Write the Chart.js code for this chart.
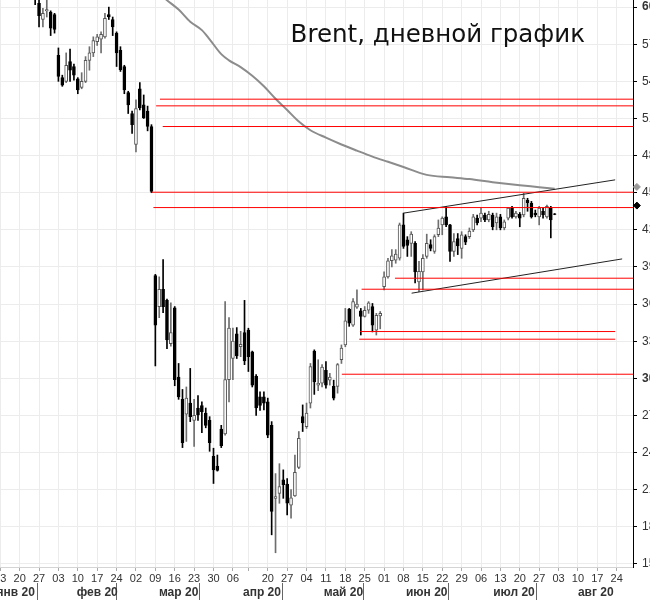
<!DOCTYPE html>
<html>
<head>
<meta charset="utf-8">
<title>Brent, дневной график</title>
<script src="https://cdn.jsdelivr.net/npm/chart.js@4.4.0/dist/chart.umd.min.js"></script>
<style>
  html, body { margin: 0; padding: 0; width: 650px; height: 600px; overflow: hidden; background: #fff; }
  /* the original picture is a crop of a wider chart: shift the canvas so the edges fall outside */
  #brent { position: absolute; left: -23px; top: -30px; }
</style>
</head>
<body>
<canvas id="brent" width="696" height="630"></canvas>
<script>
// Brent front month, daily candles 13.01.2020 - 31.07.2020
const chartTitle = 'Brent, дневной график';
const firstCalendarDay = '2020-01-02';
const lastCalendarDay = '2020-08-31';
const closedDays = ['2020-04-10'];
const firstCandleDay = '2020-01-13';
const unlabeledMondays = ['2020-04-13'];
const monthNames = ['янв 20', 'фев 20', 'мар 20', 'апр 20', 'май 20', 'июн 20', 'июл 20', 'авг 20'];
const yTicks = [15, 18, 21, 24, 27, 30, 33, 36, 39, 42, 45, 48, 51, 54, 57, 60];

// one row per week
const opens = [
  64.9, 64.2, 64.4, 64.0, 64.6,
  65.0, 65.2, 64.6, 63.3, 62.0,
  60.3, 59.0, 59.7, 59.6, 59.4,
  56.1, 54.3, 54.0, 55.6, 55.2,
  54.2, 53.5, 54.0, 55.7, 56.3,
  57.2, 57.4, 57.6, 59.4, 59.0,
  57.9, 56.5, 55.2, 53.1, 51.4,
  48.9, 53.4, 52.1, 51.6, 50.35,
  38.3, 35.8, 37.2, 36.3, 32.8,
  35.7, 30.1, 28.3, 27.1, 28.0,
  26.6, 27.6, 27.8, 27.2, 26.6,
  23.7, 22.9, 25.9, 25.5, 29.9,
  31.6, 33.6, 32.55, 33.7,
  33.9, 32.15, 30.15, 28.5, 28.5,
  28.1, 26.2, 20.3, 20.7, 21.8,
  21.45, 19.75, 20.5, 22.8, 26.9,
  26.1, 28.0, 32.2, 29.45, 29.6,
  30.65, 29.85, 29.35, 29.35, 31.5,
  32.7, 35.6, 34.3, 35.75, 35.45,
  35.0, 35.5, 35.8, 33.9, 35.05,
  37.4, 38.2, 39.5, 39.55, 39.7,
  42.4, 41.2, 40.9, 40.9, 37.8,
  38.6, 39.85, 40.8, 40.25, 41.6,
  42.4, 43.05, 42.4, 40.25, 41.3,
  40.5, 41.45, 41.45, 42.0, 42.95,
  42.95, 43.2, 42.8, 43.2, 42.55,
  43.05, 42.15, 42.95, 43.75, 43.05,
  43.25, 43.2, 44.4, 44.15, 43.35,
  43.05, 43.5, 43.05, 43.75, 43.3
];
const highs = [
  65.0, 64.8, 64.6, 64.8, 65.3,
  66.0, 65.5, 64.8, 63.5, 62.5,
  60.7, 59.9, 60.7, 59.7, 59.5,
  56.7, 54.5, 56.3, 56.6, 55.4,
  54.3, 54.7, 56.0, 56.8, 57.6,
  57.8, 58.0, 59.5, 60.0, 59.2,
  58.0, 56.8, 55.3, 53.2, 51.6,
  52.5, 53.9, 52.9, 52.0, 50.5,
  38.4, 38.2, 39.6, 36.4, 36.1,
  35.8, 31.2, 29.1, 29.3, 30.8,
  28.3, 28.6, 28.1, 27.6, 26.9,
  24.35, 23.8, 26.2, 36.2, 34.9,
  34.05, 34.1, 33.8, 36.3,
  34.05, 32.2, 30.3, 28.9, 28.9,
  28.4, 26.5, 22.3, 23.1, 22.6,
  21.9, 21.0, 23.8, 25.7, 27.85,
  28.0, 31.2, 32.3, 31.5, 31.1,
  31.35, 30.4, 29.85, 31.2, 32.7,
  35.65, 35.65, 36.45, 37.15, 35.65,
  35.8, 36.2, 36.05, 35.25, 35.4,
  38.6, 39.7, 40.4, 40.4, 42.55,
  43.35, 41.45, 41.85, 41.05, 39.45,
  40.0, 41.65, 41.2, 41.6, 42.8,
  43.05, 43.9, 42.45, 41.7, 41.7,
  41.85, 41.6, 42.15, 43.25, 43.2,
  43.75, 43.35, 43.5, 43.35, 43.35,
  43.25, 42.8, 43.8, 43.9, 43.5,
  43.4, 44.95, 44.55, 44.3, 43.6,
  43.9, 43.75, 44.0, 43.9, 43.32
];
const lows = [
  64.0, 63.9, 63.8, 63.8, 64.5,
  64.9, 64.2, 63.0, 61.6, 60.2,
  58.4, 58.4, 59.2, 57.7, 57.9,
  54.0, 53.6, 53.9, 54.0, 54.1,
  53.0, 53.4, 53.9, 54.9, 56.0,
  56.9, 56.3, 57.5, 59.0, 57.7,
  55.2, 54.8, 53.0, 51.4, 49.8,
  48.3, 51.7, 51.0, 50.0, 45.0,
  31.0, 34.9, 35.3, 32.4, 32.6,
  29.4, 28.3, 24.4, 24.9, 26.5,
  24.5, 26.6, 25.6, 26.0, 24.1,
  21.5, 22.5, 24.4, 25.4, 28.1,
  29.9, 31.6, 31.75, 31.1,
  30.55, 29.3, 27.0, 27.4, 27.45,
  25.2, 17.35, 15.9, 19.9, 20.3,
  18.95, 18.7, 20.45, 22.7, 25.7,
  25.95, 27.6, 28.7, 29.0, 29.3,
  29.2, 29.45, 28.25, 28.8, 31.2,
  32.55, 34.2, 34.2, 35.65, 33.5,
  34.95, 35.25, 33.75, 33.5, 34.0,
  37.15, 38.1, 39.0, 39.3, 39.55,
  40.5, 39.85, 39.85, 37.7, 37.0,
  37.15, 39.7, 40.3, 40.1, 41.45,
  41.6, 42.25, 39.45, 39.85, 40.0,
  39.7, 40.8, 41.3, 41.85, 42.4,
  42.65, 42.65, 42.65, 42.0, 42.0,
  42.0, 42.0, 42.8, 42.95, 42.95,
  42.25, 43.05, 43.5, 42.95, 43.05,
  42.4, 42.95, 42.95, 41.35, 43.22
];
const closes = [
  64.2, 64.5, 64.0, 64.6, 64.9,
  65.2, 64.6, 63.2, 62.0, 60.7,
  59.3, 59.5, 59.8, 58.3, 58.2,
  54.4, 53.7, 55.3, 54.9, 54.5,
  53.3, 54.0, 55.7, 56.3, 57.3,
  57.6, 57.8, 59.1, 59.2, 58.4,
  56.3, 54.95, 53.3, 52.1, 50.5,
  51.8, 51.85, 51.05, 50.35, 45.1,
  34.3, 37.2, 35.8, 33.1, 33.7,
  29.9, 28.5, 24.8, 28.4, 26.9,
  27.0, 27.05, 27.3, 26.2, 24.8,
  22.6, 22.55, 24.55, 29.9, 34.05,
  33.0, 31.8, 32.75, 31.4,
  31.75, 29.45, 27.6, 27.8, 28.0,
  25.4, 19.25, 20.45, 21.25, 21.4,
  19.9, 20.35, 22.4, 25.15, 26.4,
  27.2, 30.95, 29.7, 29.6, 30.9,
  29.45, 30.1, 28.4, 31.1, 32.45,
  34.65, 34.45, 36.2, 36.0, 35.0,
  35.5, 36.1, 34.3, 35.1, 35.25,
  38.2, 39.5, 39.9, 40.05, 42.4,
  40.65, 40.75, 41.65, 38.6, 38.65,
  39.7, 40.9, 40.5, 41.45, 42.15,
  42.95, 42.4, 40.25, 41.05, 40.7,
  41.6, 41.0, 41.9, 43.05, 42.55,
  43.35, 42.8, 43.25, 42.25, 43.05,
  42.15, 42.65, 43.75, 43.05, 43.35,
  42.95, 44.55, 44.2, 43.05, 43.2,
  43.75, 43.2, 43.9, 42.8, 43.25
];

// 200-day moving average (day number from 13.01)
const maDays = [40, 43, 46, 49, 52, 54, 57, 59, 62, 65, 68, 71, 74, 77, 80, 84, 88, 92, 96, 100, 104, 110, 116, 121, 127, 134, 139, 143];
const maValues = [61.35, 60.56, 59.8, 58.82, 58.14, 57.4, 56.2, 55.7, 55.15, 54.45, 53.6, 52.6, 51.68, 50.75, 50.05,
  49.45, 48.9, 48.4, 47.92, 47.5, 47.08, 46.44, 46.25, 46.1, 45.85, 45.6, 45.45, 45.32];

// horizontal levels: price, first day, last day (null = up to the price axis)
const levelPrices = [52.56, 52.02, 50.35, 45.04, 43.8, 38.09, 37.2, 33.78, 33.16, 30.33];
const levelFrom = [41.2, 40.2, 41.9, 39.0, 39.5, 101.8, 93.2, 92.8, 92.6, 88.1];
const levelTo = [null, null, null, null, null, null, null, 158.6, 158.6, null];

// rising channel
const channelTopDays = [104, 158.6];
const channelTopPrices = [43.35, 46.04];
const channelBottomDays = [106.1, 160.4];
const channelBottomPrices = [36.88, 39.65];

// price markers on the axis
const lastPriceMarker = 43.96;
const lastMaMarker = 45.47;

const X_MIN = -6;
const X_MAX = 163.2;

// trading calendar
function tradingDays() {
  const out = [];
  const d = new Date(firstCalendarDay + 'T00:00:00Z');
  const end = new Date(lastCalendarDay + 'T00:00:00Z');
  while (d <= end) {
    const iso = d.toISOString().slice(0, 10);
    const wd = d.getUTCDay();
    if (wd !== 0 && wd !== 6 && !closedDays.includes(iso)) out.push(iso);
    d.setUTCDate(d.getUTCDate() + 1);
  }
  return out;
}
const days = tradingDays();
const dayOffset = days.indexOf(firstCandleDay);
const dayIndex = iso => days.indexOf(iso) - dayOffset;
const inView = v => v >= X_MIN && v <= X_MAX;

// weekly ticks on Mondays
const weekTicks = days
  .filter(d => new Date(d + 'T00:00:00Z').getUTCDay() === 1)
  .map(d => ({ value: dayIndex(d), label: unlabeledMondays.includes(d) ? '' : d.slice(8, 10) }))
  .filter(t => inView(t.value));
const weekLabel = new Map(weekTicks.map(t => [t.value, t.label]));

// month separators and month names centred between them
const monthStarts = [];
days.forEach((d, i) => {
  if (i === 0 || d.slice(5, 7) !== days[i - 1].slice(5, 7)) monthStarts.push(dayIndex(d));
});
const monthLabel = new Map();
monthStarts.forEach((s, i) => {
  const next = i + 1 < monthStarts.length ? Math.min(monthStarts[i + 1], X_MAX) : X_MAX;
  monthLabel.set((s + next) / 2, monthNames[i]);
});
const monthSeparators = new Set(monthStarts.filter(inView));
const monthTicks = [...monthSeparators, ...monthLabel.keys()].sort((a, b) => a - b);

const isUp = i => closes[i] >= opens[i];

const datasets = [
  {
    type: 'bar',
    label: 'wicks',
    data: opens.map((_, i) => ({ x: i, y: [lows[i], highs[i]] })),
    barThickness: 1,
    grouped: false,
    backgroundColor: ctx => isUp(ctx.dataIndex) ? '#6e6e6e' : '#000',
    borderWidth: 0,
    order: 3
  },
  {
    type: 'bar',
    label: 'bodies',
    data: opens.map((_, i) => ({ x: i, y: [Math.min(opens[i], closes[i]), Math.max(opens[i], closes[i])] })),
    barThickness: 3,
    grouped: false,
    backgroundColor: ctx => isUp(ctx.dataIndex) ? '#fff' : '#000',
    borderColor: ctx => isUp(ctx.dataIndex) ? '#555' : '#000',
    borderWidth: 1,
    borderSkipped: false,
    order: 2
  },
  {
    type: 'line',
    label: 'MA',
    data: maDays.map((d, i) => ({ x: d, y: maValues[i] })),
    borderColor: '#8c8c8c',
    borderWidth: 2,
    pointRadius: 0,
    cubicInterpolationMode: 'monotone',
    order: 1
  }
];

levelPrices.forEach((p, i) => {
  datasets.push({
    type: 'line',
    label: 'level ' + p,
    data: [{ x: levelFrom[i], y: p }, { x: levelTo[i] === null ? X_MAX : levelTo[i], y: p }],
    borderColor: '#ff0000',
    borderWidth: 1,
    pointRadius: 0,
    order: 0
  });
});

datasets.push({
  type: 'line',
  label: 'channel top',
  data: channelTopDays.map((d, i) => ({ x: d, y: channelTopPrices[i] })),
  borderColor: '#222',
  borderWidth: 1,
  pointRadius: 0,
  order: 0
});
datasets.push({
  type: 'line',
  label: 'channel bottom',
  data: channelBottomDays.map((d, i) => ({ x: d, y: channelBottomPrices[i] })),
  borderColor: '#222',
  borderWidth: 1,
  pointRadius: 0,
  order: 0
});

// markers just right of the price axis
[[lastMaMarker, '#9a9a9a'], [lastPriceMarker, '#000']].forEach(([p, color]) => {
  datasets.push({
    type: 'line',
    label: 'marker',
    data: [{ x: X_MAX + 1, y: p }],
    showLine: false,
    pointStyle: 'rectRot',
    pointRadius: 3.5,
    pointBackgroundColor: color,
    pointBorderColor: color,
    clip: false,
    order: 0
  });
});

const titlePlugin = {
  id: 'chartTitle',
  beforeDatasetsDraw(chart) {
    const { ctx, chartArea } = chart;
    ctx.save();
    ctx.font = '24.5px "DejaVu Sans"';
    ctx.fillStyle = '#111';
    ctx.textAlign = 'right';
    ctx.textBaseline = 'alphabetic';
    ctx.fillText(chartTitle, chartArea.right - 48, chartArea.top + 72);
    ctx.restore();
  }
};

const gridColor = '#ececec';

new Chart(document.getElementById('brent'), {
  type: 'bar',
  data: { datasets },
  plugins: [titlePlugin],
  options: {
    responsive: false,
    animation: false,
    devicePixelRatio: 1,
    events: [],
    layout: { padding: 0, autoPadding: false },
    plugins: {
      legend: { display: false },
      tooltip: { enabled: false }
    },
    scales: {
      x: {
        type: 'linear',
        position: 'bottom',
        weight: 0,
        min: X_MIN,
        max: X_MAX,
        offset: false,
        afterBuildTicks: axis => { axis.ticks = weekTicks.map(t => ({ value: t.value })); },
        afterFit: axis => { axis.height = 16; axis.paddingLeft = 0; axis.paddingRight = 0; },
        ticks: {
          autoSkip: false,
          maxRotation: 0,
          minRotation: 0,
          padding: 1,
          color: '#333',
          font: { family: 'Liberation Sans', size: 11 },
          callback: v => weekLabel.get(v) ?? ''
        },
        grid: { color: gridColor, offset: false, tickLength: 4, tickColor: '#aaa' },
        border: { color: '#d4d4d4' }
      },
      x2: {
        type: 'linear',
        position: 'bottom',
        weight: 1,
        min: X_MIN,
        max: X_MAX,
        offset: false,
        afterBuildTicks: axis => { axis.ticks = monthTicks.map(v => ({ value: v })); },
        afterFit: axis => { axis.height = 17; axis.paddingLeft = 0; axis.paddingRight = 0; },
        ticks: {
          autoSkip: false,
          maxRotation: 0,
          minRotation: 0,
          padding: -15,
          color: '#333',
          font: { family: 'Liberation Sans', size: 12, weight: 'bold' },
          callback: v => monthLabel.get(v) ?? ''
        },
        grid: {
          drawOnChartArea: false,
          tickLength: 17,
          tickColor: ctx => ctx.tick && monthSeparators.has(ctx.tick.value) ? '#666' : 'rgba(0,0,0,0)'
        },
        border: { display: false }
      },
      y: {
        type: 'linear',
        position: 'right',
        min: 14.75,
        max: 63,
        afterBuildTicks: axis => { axis.ticks = yTicks.map(v => ({ value: v })); },
        afterFit: axis => { axis.width = 40; axis.paddingTop = 0; axis.paddingBottom = 0; },
        ticks: {
          padding: 5,
          color: '#333',
          font: ctx => ({ family: 'Liberation Sans', size: 12, weight: ctx.tick && ctx.tick.value % 30 === 0 ? 'bold' : 'normal' })
        },
        grid: { color: gridColor, tickLength: 4, tickColor: '#000' },
        border: { color: '#000' }
      }
    }
  }
});
</script>
</body>
</html>
